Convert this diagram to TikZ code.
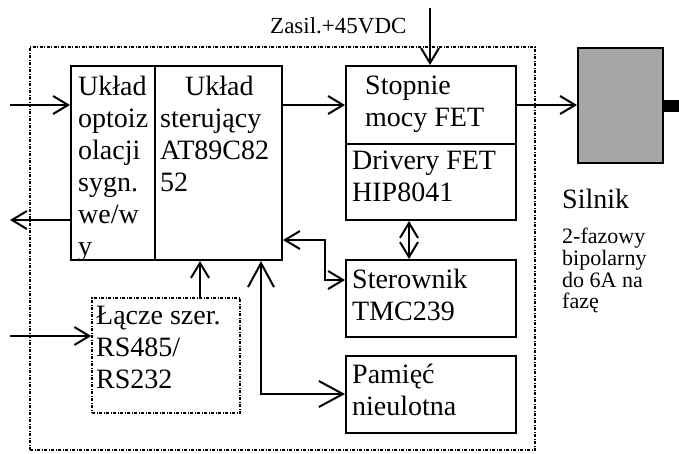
\documentclass[tikz,border=0pt]{standalone}
\usepackage{fontspec}
\setmainfont{Liberation Serif}
\usetikzlibrary{arrows.meta}

\definecolor{szary}{HTML}{A6A6A6}

\tikzset{
  blok/.style={draw, line width=2pt, inner sep=0pt},
  ramka/.style={draw, line width=1.4pt, dash pattern=on 3pt off 1.5pt on 1pt off 1.5pt, inner sep=0pt},
  opis/.style={anchor=north west, inner sep=0pt, align=left, font=\fontsize{28}{32}\selectfont},
  grot/.tip={Straight Barb[length=15pt,width=18pt]},
  duzygrot/.tip={Straight Barb[length=24pt,width=26pt]},
  strz/.style={line width=2pt, -grot},
  dwu/.style={line width=2pt, grot-grot},
}

\begin{document}
\begin{tikzpicture}[x=1pt,y=-1pt]
\useasboundingbox (0,0) rectangle (679,453);

\node[ramka, minimum width=505, minimum height=403] (plyta) at (282.5,248.5) {};

\node[blok, minimum width=84, minimum height=194] (opto) at (113,163) {};
\node[blok, minimum width=127, minimum height=194] (ster) at (218.5,163) {};
\node[blok, minimum width=170, minimum height=78] (moc) at (431,105) {};
\node[blok, minimum width=170, minimum height=76] (drv) at (431,182) {};
\node[blok, minimum width=170, minimum height=77] (tmc) at (431,298.5) {};
\node[blok, minimum width=170, minimum height=77] (pam) at (431,394.5) {};
\node[ramka, minimum width=148, minimum height=115] (rs) at (166,355.5) {};
\node[blok, fill=szary, minimum width=85, minimum height=115] (motor) at (620.5,105.5) {};
\node[fill=black, inner sep=0pt, minimum width=16, minimum height=12, anchor=west] (wal) at (motor.east) {};

\node[opis] (optoT) at (78,76) {Układ\\optoiz\\olacji\\sygn.\\we/w\\y};
\node[opis] (sterT) at (160,76) {\hspace*{25pt}Układ\\sterujący\\AT89C82\\52};
\node[opis] (mocT) at (365,76) {Stopnie\\mocy FET};
\node[opis] (drvT) at (352,151) {Drivery FET\\HIP8041};
\node[opis] (tmcT) at (352,269) {Sterownik\\TMC239};
\node[opis] (pamT) at (352,364) {Pamięć\\nieulotna};
\node[opis] (rsT) at (96,306) {Łącze szer.\\RS485/\\RS232};
\node[opis] (silnikT) at (562,189) {Silnik};
\node[opis, font=\fontsize{22}{21.7}\selectfont] (silnikO) at (562,228) {2-fazowy\\bipolarny\\do 6A na\\fazę};
\node[opis, font=\fontsize{23}{26}\selectfont] (zasT) at (270,17) {Zasil.+45VDC};

\coordinate (we1) at (10,105);
\coordinate (wy1) at (10,220);
\coordinate (we2) at (10,336);
\coordinate (zas) at (430,8);
\coordinate (rsx) at (200,280);
\coordinate (drx) at (409,240);
\coordinate (b1) at (325,240);
\coordinate (b2) at (325,280);
\coordinate (b3) at (261,394);

% wejscia i wyjscia
\foreach \from/\to in {we1/opto, we2/rs}
  \draw[strz] (\from) -- (\from -| \to.west);
\draw[strz] (wy1 -| opto.west) -- (wy1);
\draw[strz] (zas) -- (zas |- moc.north);
\draw[strz] (ster.east |- moc.west) -- (moc.west);
\draw[strz] (moc.east) -- (moc.east -| motor.west);
\draw[strz] (rs.north -| rsx) -- (ster.south -| rsx);

% polaczenia dwukierunkowe
\draw[dwu] (drv.south -| drx) -- (tmc.north -| drx);
\draw[dwu] (ster.east |- b1) -- (b1) -- (b2) -- (b2 -| tmc.west);
\draw[line width=2pt, duzygrot-duzygrot] (ster.south -| b3) -- (b3) -- (b3 -| pam.west);

\end{tikzpicture}
\end{document}
